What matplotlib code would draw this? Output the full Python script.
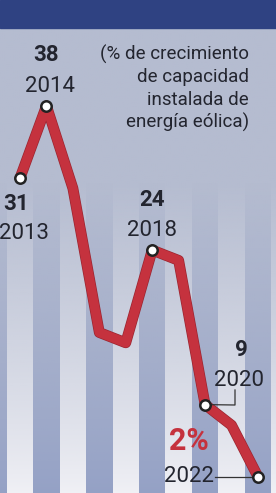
import numpy as np
import matplotlib
matplotlib.use("Agg")
import matplotlib.pyplot as plt
from matplotlib.patches import Rectangle
import matplotlib.patheffects as pe

years = [2013, 2014, 2015, 2016, 2017, 2018, 2019, 2020, 2021, 2022]
growth = [31, 38, 30, 16, 15, 24, 23, 9, 7, 2]
labeled_years = [2013, 2014, 2018, 2020, 2022]
label_values = ["31", "38", "24", "9", "2%"]
note = "(% de crecimiento\nde capacidad\ninstalada de\nenergía eólica)"

W, H = 276, 493
DPI = 100
fig = plt.figure(figsize=(W / DPI, H / DPI), dpi=DPI)
fig.patch.set_facecolor("#b4bcd0")

band_px = 28
ax = fig.add_axes([0, 0, 1, (H - band_px) / H])
x0, x1 = 2013 - 20 / 26.44, 2013 + 256 / 26.44
y0, y1 = 31 - (493 - 178) / 10.3, 31 + (178 - band_px) / 10.3
ax.set_xlim(x0, x1)
ax.set_ylim(y0, y1)
ax.axis("off")
ax.add_patch(Rectangle((x0, y0), x1 - x0, y1 - y0, color="#93a0c5", zorder=0))

# background stripes: white on odd years
for yr in range(2011, 2025):
    if yr % 2 == 1:
        ax.axvspan(yr - 0.5, yr + 0.5, color="#f3f3f7", zorder=0.5, lw=0)

# fade overlay toward top
ny = 200
vals = np.linspace(y0, y1, ny)
alpha = np.clip((vals - 0.5) / 30.0, 0, 1) ** 0.85
alpha = np.clip(alpha * 0.95 + 0.05, 0, 1)
img = np.zeros((ny, 2, 4))
img[..., 0] = 181 / 255
img[..., 1] = 188 / 255
img[..., 2] = 208 / 255
img[..., 3] = alpha[:, None]
ax.imshow(img, extent=(x0, x1, y0, y1), origin="lower", aspect="auto", zorder=1,
          interpolation="bilinear")

# navy band on top
fig.patches.append(Rectangle((0, 1 - band_px / H), 1, band_px / H, transform=fig.transFigure,
                             color="#2f4282", zorder=5))

# main line
ax.plot(years, growth, color="#c5323e", lw=6.8, solid_joinstyle="round",
        solid_capstyle="round", zorder=3,
        path_effects=[pe.Stroke(linewidth=7.8, foreground="#9a2530"), pe.Normal()])
mk_y = [growth[years.index(y)] for y in labeled_years]
ax.plot(labeled_years, mk_y, ls="none", marker="o", ms=7.5, mfc="white", mec="#222222",
        mew=1.8, zorder=5)

font = ["Roboto", "DejaVu Sans"]
dark = "#23252f"

def px2d(px, py):
    return 2013 + (px - 20) / 26.44, 31 - (py - 178) / 10.3

def txt(px, py, s, size=16, weight="normal", color=dark, ha="center"):
    x, y = px2d(px, py)
    ax.text(x, y, s, ha=ha, va="center", fontsize=size, fontweight=weight,
            color=color, family=font, zorder=6)

# value labels and year labels
val_pos = [(16, 204), (46, 55), (152, 200), (241, 350)]
yr_pos = [(24, 234), (50, 86), (152, 230), (239, 380)]
for i in range(4):
    txt(*val_pos[i], label_values[i], size=16, weight="bold")
    txt(*yr_pos[i], str(labeled_years[i]), size=16)
txt(189, 441, label_values[4], size=22, weight="bold", color="#c5323e")
txt(189, 476, str(labeled_years[4]), size=16)

# connectors
xa, ya = px2d(235, 390)
xb, yb = px2d(235, 405)
ax.plot([xa, xb, 2020], [ya, yb, 9], color="#333333", lw=0.9, zorder=4)
xc, yc = px2d(215, 477)
ax.plot([xc, 2022], [2, 2], color="#333333", lw=0.9, zorder=4)

# note
nx, ny_ = px2d(249, 45)
ax.text(nx, ny_, note, ha="right", va="top", multialignment="right", fontsize=13.5,
        color=dark, family=font, linespacing=1.3, zorder=6)

fig.savefig("out.png", dpi=DPI)
